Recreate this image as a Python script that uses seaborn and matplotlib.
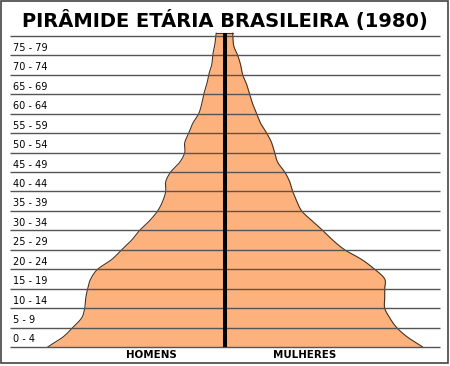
import numpy as np
import matplotlib
matplotlib.use("Agg")
import matplotlib.pyplot as plt
import seaborn as sns
from matplotlib.patches import Rectangle

# ---- data (percent of population) ----
age_groups = ["0 - 4", "5 - 9", "10 - 14", "15 - 19", "20 - 24", "25 - 29",
              "30 - 34", "35 - 39", "40 - 44", "45 - 49", "50 - 54", "55 - 59",
              "60 - 64", "65 - 69", "70 - 74", "75 - 79"]
# width of the pyramid at the middle of each age group
men_mid = [6.48, 5.72, 5.56, 5.36, 4.52, 3.72, 3.00, 2.48, 2.36, 1.80,
           1.60, 1.28, 0.92, 0.72, 0.52, 0.40]
women_mid = [7.32, 6.60, 6.40, 6.40, 5.48, 4.32, 3.48, 2.88, 2.60, 2.12,
             1.88, 1.44, 1.12, 0.88, 0.64, 0.36]
# width of the pyramid at the boundaries between age groups (0, 5, ..., 80)
men_edge = [7.08, 6.08, 5.60, 5.48, 5.08, 4.12, 3.40, 2.68, 2.36, 2.16,
            1.60, 1.44, 1.04, 0.84, 0.64, 0.48, 0.34]
women_edge = [7.92, 6.88, 6.40, 6.40, 6.00, 4.80, 3.92, 3.08, 2.72, 2.40,
              2.00, 1.68, 1.28, 1.00, 0.72, 0.52, 0.32]
title = "PIRÂMIDE ETÁRIA BRASILEIRA (1980)"
left_label = "HOMENS"
right_label = "MULHERES"

# ---- style ----
FILL = "#FDB27E"
OUTLINE = "#4a3020"
GRID = "#555555"
TOP_EXTRA = 0.15

sns.set_theme(style="white")
plt.rcParams["font.family"] = ["DejaVu Sans"]

fig = plt.figure(figsize=(4.5, 3.66), dpi=100)
ax = fig.add_axes([0, 0, 1, 1])
ax.set_xlim(-8.988, 9.012)
ax.set_ylim(-0.977, 17.85)
ax.axis("off")

n = len(age_groups)


def profile(edge, mid):
    vals = []
    for i in range(n):
        vals += [edge[i], mid[i]]
    vals.append(edge[n])
    ys = np.arange(len(vals)) * 0.5
    ys[-1] += TOP_EXTRA
    return ys, np.array(vals)


def catmull(ys, xs, k=12):
    P = np.column_stack([ys, xs])
    P = np.vstack([P[0], P, P[-1]])
    out = []
    for i in range(1, len(P) - 2):
        p0, p1, p2, p3 = P[i - 1], P[i], P[i + 1], P[i + 2]
        t = np.linspace(0, 1, k, endpoint=False)[:, None]
        q = 0.5 * (2 * p1 + (-p0 + p2) * t + (2 * p0 - 5 * p1 + 4 * p2 - p3) * t ** 2
                   + (-p0 + 3 * p1 - 3 * p2 + p3) * t ** 3)
        out.append(q)
    out.append(P[-2][None, :])
    Q = np.vstack(out)
    return Q[:, 0], Q[:, 1]


ym, xm = catmull(*profile(men_edge, men_mid))
yw, xw = catmull(*profile(women_edge, women_mid))
top = ym[-1]

ax.fill_betweenx(ym, -xm, np.interp(ym, yw, xw), color=FILL, lw=0, zorder=1)
sns.lineplot(x=-xm, y=ym, sort=False, estimator=None, color=OUTLINE, lw=0.8, ax=ax, zorder=2)
sns.lineplot(x=xw, y=yw, sort=False, estimator=None, color=OUTLINE, lw=0.8, ax=ax, zorder=2)
ax.plot([-xm[-1], xw[-1]], [top, top], color=OUTLINE, lw=0.8, zorder=2)

ax.hlines(np.arange(n + 1), -8.59, 8.6, color=GRID, lw=1.0, zorder=3)
ax.vlines(0, 0, top, color="black", lw=2.9, zorder=4)

for i, lab in enumerate(age_groups):
    ax.text(-8.47, i + 0.13, lab, ha="left", va="bottom", fontsize=7, color="black", zorder=5)

fig.text(0.5, 1 - 21 / 366, title, ha="center", va="center", fontsize=14,
         fontweight="bold", color="black")
fig.text(151.5 / 450, 1 - 354.5 / 366, left_label, ha="center", va="center",
         fontsize=7.4, fontweight="bold", color="black")
fig.text(305 / 450, 1 - 354.5 / 366, right_label, ha="center", va="center",
         fontsize=7.4, fontweight="bold", color="black")

fig.patches.append(Rectangle((1 / 450, 3 / 366), 447 / 450, 362 / 366,
                             transform=fig.transFigure, fill=False,
                             edgecolor="#444444", lw=1.2))

fig.savefig("out.png", dpi=100)
